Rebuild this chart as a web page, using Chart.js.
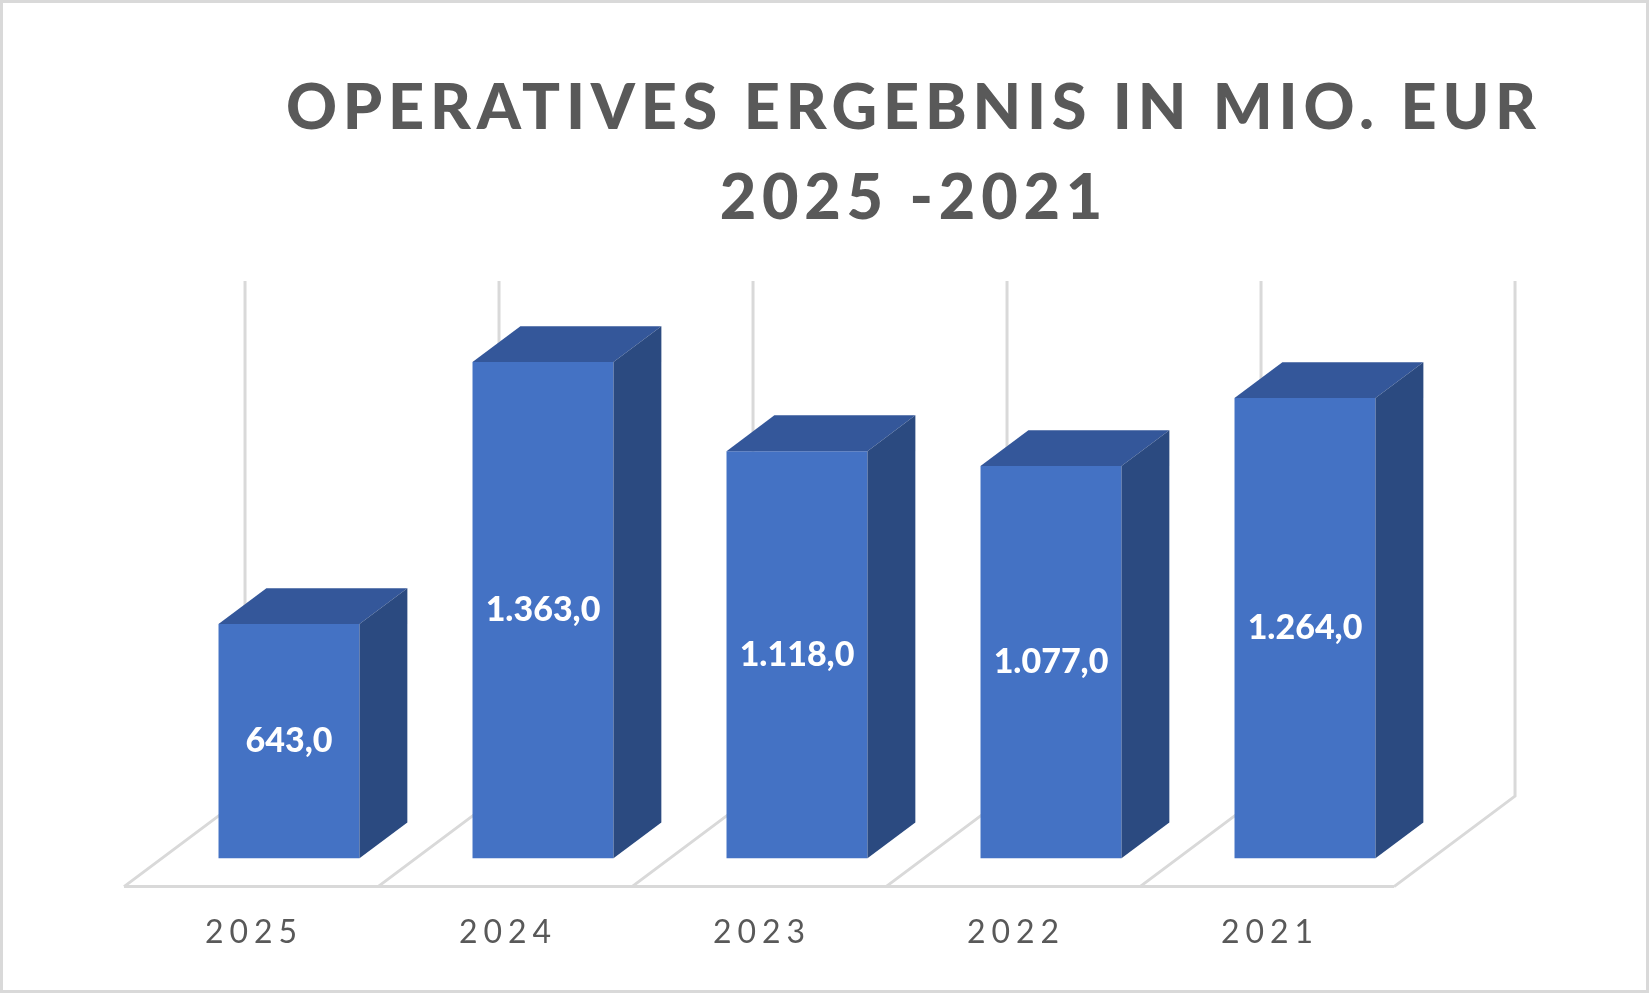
<!DOCTYPE html>
<html lang="de">
<head>
<meta charset="utf-8">
<title>Operatives Ergebnis in Mio. EUR 2025 - 2021</title>
<script src="https://cdn.jsdelivr.net/npm/chart.js@4.4.1/dist/chart.umd.min.js"></script>
<style>
    html, body { margin: 0; padding: 0; background: #ffffff; }
    canvas { display: block; }
</style>
</head>
<body>
<canvas id="ergebnisChart" width="1649" height="993"></canvas>
<script>
// Chart data
const years = ['2025', '2024', '2023', '2022', '2021'];
const operatingResult = [643.0, 1363.0, 1118.0, 1077.0, 1264.0];
const titleLines = ['OPERATIVES ERGEBNIS IN MIO. EUR', '2025 -2021'];

// Look & feel
const FRONT_COLOR = '#4472C4';
const TOP_COLOR = '#34579A';
const SIDE_COLOR = '#2B4A80';
const GRID_COLOR = '#D9D9D9';
const TEXT_COLOR = '#595959';
const FONT = 'Lato';

// Oblique projection: x shift per pixel of depth (taken from the floor diagonals)
const DEPTH_RATIO = 121 / 90.5;
const FLOOR_DEPTH = 90.5;   // depth of the floor plate, in vertical pixels
const BAR_DEPTH = 35.8;     // depth of each column, in vertical pixels

// German number format: 1363 -> "1.363,0"
function formatDe(v) {
    const parts = v.toFixed(1).split('.');
    return parts[0].replace(/\B(?=(\d{3})+(?!\d))/g, '.') + ',' + parts[1];
}

// ==========================================
// FLOOR + BACK WALL — drawn before the columns
// so the columns hide whatever is behind them.
// Top / side faces and value labels after them.
// ==========================================
const floorPlugin = {
    id: 'floor3d',
    beforeDraw(chart) {
        // letter-spaced axis labels like the original
        chart.ctx.letterSpacing = '6px';
    },
    beforeDatasetsDraw(chart) {
        const { ctx, scales: { x, y } } = chart;
        const front = y.bottom;
        const base = y.getPixelForValue(0);
        const shiftX = (front - base) * DEPTH_RATIO;   // column front vs. floor front
        const catW = (x.right - x.left) / years.length;
        const wallTop = y.top - (FLOOR_DEPTH - (front - base));
        const depthX = FLOOR_DEPTH * DEPTH_RATIO;

        ctx.save();
        ctx.strokeStyle = GRID_COLOR;
        ctx.lineWidth = 3;
        ctx.beginPath();
        const firstEdge = x.getPixelForValue(0) - catW / 2 - shiftX;
        const lastEdge = x.getPixelForValue(years.length - 1) + catW / 2 - shiftX;
        ctx.moveTo(firstEdge, front);
        ctx.lineTo(lastEdge, front);
        for (let i = 0; i <= years.length; i++) {
            const fx = firstEdge + i * catW;
            ctx.moveTo(fx, front);
            ctx.lineTo(fx + depthX, front - FLOOR_DEPTH);
            ctx.lineTo(fx + depthX, wallTop);
        }
        ctx.stroke();
        ctx.restore();
    },
    afterDatasetsDraw(chart) {
        const { ctx } = chart;
        const meta = chart.getDatasetMeta(0);
        const dx = BAR_DEPTH * DEPTH_RATIO;
        const dy = BAR_DEPTH;

        ctx.save();
        ctx.letterSpacing = '0px';
        meta.data.forEach((bar, i) => {
            const { x, y, base, width } = bar.getProps(['x', 'y', 'base', 'width'], true);
            const left = x - width / 2;
            const right = x + width / 2;

            // top face
            ctx.fillStyle = TOP_COLOR;
            ctx.beginPath();
            ctx.moveTo(left, y);
            ctx.lineTo(left + dx, y - dy);
            ctx.lineTo(right + dx, y - dy);
            ctx.lineTo(right, y);
            ctx.closePath();
            ctx.fill();

            // side face
            ctx.fillStyle = SIDE_COLOR;
            ctx.beginPath();
            ctx.moveTo(right, y);
            ctx.lineTo(right + dx, y - dy);
            ctx.lineTo(right + dx, base - dy);
            ctx.lineTo(right, base);
            ctx.closePath();
            ctx.fill();

            // value label in the middle of the front face
            ctx.fillStyle = '#FFFFFF';
            ctx.font = `900 34px ${FONT}`;
            ctx.textAlign = 'center';
            ctx.textBaseline = 'middle';
            ctx.fillText(formatDe(operatingResult[i]), x, (y + base) / 2);
        });
        ctx.restore();
    },
    afterDraw(chart) {
        const { ctx, width, height } = chart;
        ctx.save();

        // title: two centred, letter-spaced lines
        ctx.fillStyle = TEXT_COLOR;
        ctx.font = `900 63px ${FONT}`;
        ctx.textAlign = 'left';
        ctx.textBaseline = 'alphabetic';
        ctx.letterSpacing = '0px';
        const centreX = 911;
        const firstWidth = 1250;
        const plain = ctx.measureText(titleLines[0]).width;
        const spacing = Math.max(0, (firstWidth - plain) / (titleLines[0].length - 1));
        const baselines = [129, 219];
        titleLines.forEach((line, i) => {
            ctx.letterSpacing = '0px';
            const w = ctx.measureText(line).width + spacing * (line.length - 1);
            ctx.letterSpacing = spacing + 'px';
            ctx.fillText(line, centreX - w / 2, baselines[i]);
        });

        // thin frame round the whole chart
        ctx.letterSpacing = '0px';
        ctx.strokeStyle = GRID_COLOR;
        ctx.lineWidth = 3;
        ctx.strokeRect(1.5, 1.5, width - 3, height - 3);
        ctx.restore();
        ctx.letterSpacing = '0px';
    }
};

function buildChart() {
    const ctx = document.getElementById('ergebnisChart').getContext('2d');
    new Chart(ctx, {
        type: 'bar',
        data: {
            labels: years,
            datasets: [{
                label: 'Operatives Ergebnis in Mio. EUR',
                data: operatingResult,
                backgroundColor: FRONT_COLOR,
                borderWidth: 0,
                barPercentage: 0.555,
                categoryPercentage: 1.0
            }]
        },
        options: {
            responsive: false,
            animation: false,
            devicePixelRatio: 1,
            events: [],
            layout: { padding: { top: 343, left: 162, right: 217, bottom: 14 } },
            plugins: {
                legend: { display: false },
                tooltip: { enabled: false },
                title: { display: false }
            },
            scales: {
                x: {
                    grid: { display: false, drawTicks: false, tickLength: 0 },
                    border: { display: false },
                    ticks: {
                        color: TEXT_COLOR,
                        font: { family: FONT, size: 32 },
                        padding: 27,
                        labelOffset: -35
                    }
                },
                y: {
                    display: false,
                    min: -78,
                    max: 1415
                }
            }
        },
        plugins: [floorPlugin]
    });
}

// make sure the local fonts are ready before the canvas draws text
Promise.all([
    document.fonts.load(`900 63px ${FONT}`),
    document.fonts.load(`900 34px ${FONT}`),
    document.fonts.load(`32px ${FONT}`)
]).then(buildChart, buildChart);
</script>
</body>
</html>
